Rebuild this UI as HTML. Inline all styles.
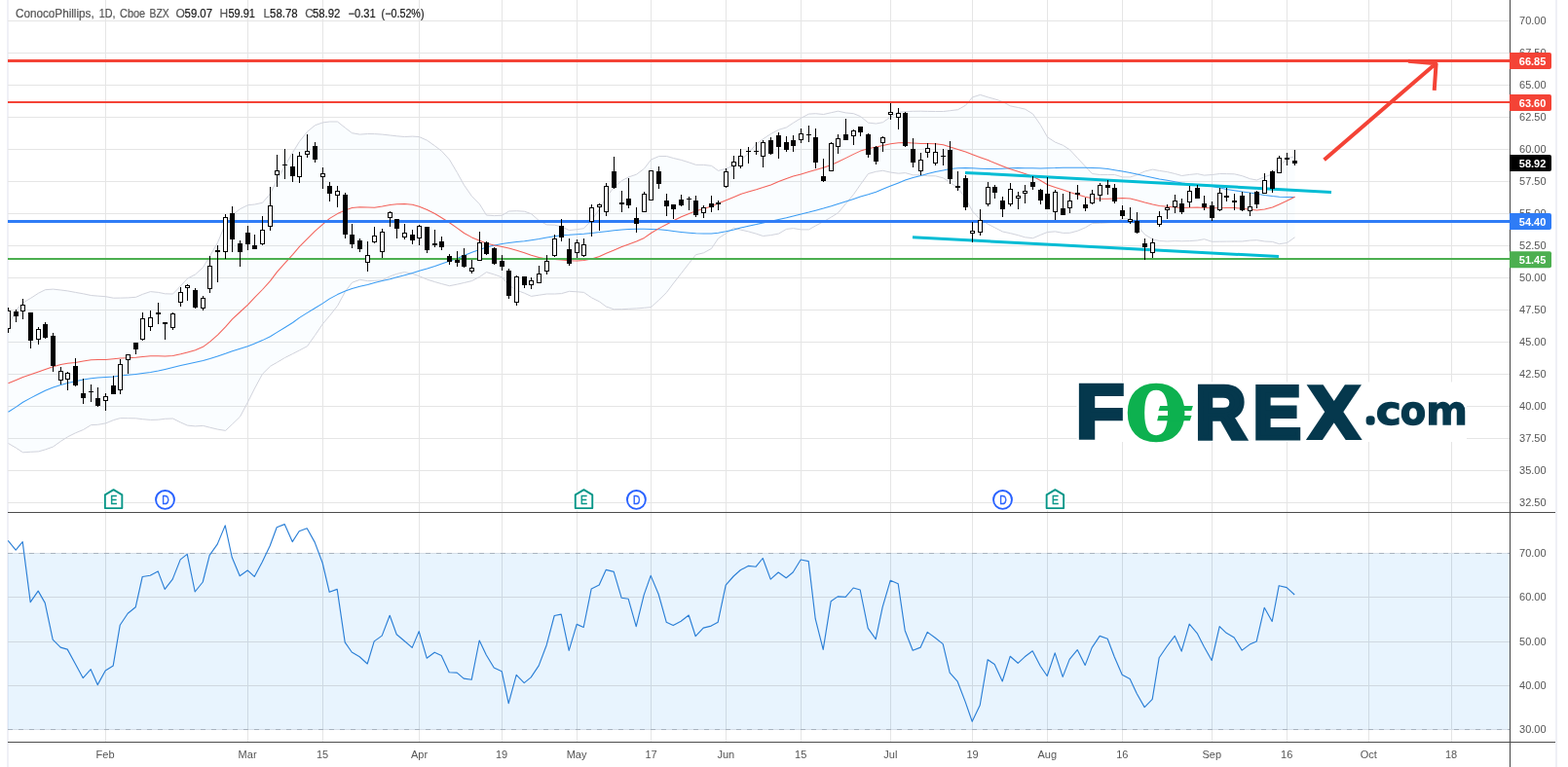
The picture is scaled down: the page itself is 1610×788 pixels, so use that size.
<!DOCTYPE html>
<html lang="en"><head><meta charset="utf-8"><title>ConocoPhillips, 1D, Cboe BZX</title>
<style>html,body{margin:0;padding:0;background:#fff;overflow:hidden}body{width:1610px;height:788px;position:relative;font-family:"Liberation Sans",sans-serif}</style></head>
<body>
<svg width="1610" height="788" viewBox="0 0 1610 788" style="position:absolute;left:0;top:0;display:block" font-family="'Liberation Sans', sans-serif">
<rect width="1610" height="788" fill="#fff"/>
<path d="M7 0h2V788h-2ZM1597 0h2V788h-2Z" fill="#eff0f6"/>
<path d="M8 21.5H1550M8 54.5H1550M8 87.5H1550M8 120.5H1550M8 153.5H1550M8 186.5H1550M8 219.5H1550M8 252.5H1550M8 285.5H1550M8 318.5H1550M8 351.5H1550M8 384.5H1550M8 417.5H1550M8 450.5H1550M8 483.5H1550M8 516.5H1550M108.5 0V526M108.5 527V762M254.5 0V526M254.5 527V762M331.5 0V526M331.5 527V762M430.5 0V526M430.5 527V762M515.5 0V526M515.5 527V762M592.5 0V526M592.5 527V762M668.5 0V526M668.5 527V762M745.5 0V526M745.5 527V762M822.5 0V526M822.5 527V762M914.5 0V526M914.5 527V762M998.5 0V526M998.5 527V762M1075.5 0V526M1075.5 527V762M1152.5 0V526M1152.5 527V762M1244.5 0V526M1244.5 527V762M1321.5 0V526M1321.5 527V762M1405.5 0V526M1405.5 527V762M1490.5 0V526M1490.5 527V762" stroke="#e5e5e5" stroke-width="1" fill="none" shape-rendering="crispEdges"/>
<clipPath id="cpm"><rect x="8" y="0" width="1542" height="526"/></clipPath>
<g clip-path="url(#cpm)" fill="none" stroke-linejoin="round">
<polygon points="8.5,334.9 16.5,318.5 23.5,311.1 31.5,306.4 39.5,301.2 46.5,297.7 54.5,297.1 62.5,298.0 69.5,298.9 77.5,300.4 85.5,301.8 93.5,303.5 100.5,304.1 108.5,304.7 116.5,306.2 123.5,306.1 131.5,305.9 139.5,305.3 146.5,302.3 154.5,299.6 162.5,300.4 169.5,301.8 177.5,302.0 185.5,293.8 192.5,286.1 200.5,282.0 208.5,274.7 215.5,263.0 223.5,249.2 231.5,229.8 238.5,220.9 246.5,214.7 254.5,210.7 261.5,210.0 269.5,208.3 277.5,199.0 284.5,184.9 292.5,170.5 300.5,156.7 307.5,145.4 315.5,135.3 323.5,128.7 331.5,125.9 338.5,125.0 346.5,125.0 354.5,131.4 361.5,136.7 369.5,138.1 377.5,137.5 384.5,137.6 392.5,138.1 400.5,139.0 407.5,139.8 415.5,140.5 423.5,140.1 430.5,140.6 438.5,144.2 446.5,149.9 453.5,155.2 461.5,164.0 469.5,177.5 476.5,190.2 484.5,201.7 492.5,209.8 499.5,221.1 507.5,221.6 515.5,221.3 522.5,217.0 530.5,216.7 538.5,217.2 545.5,219.7 553.5,226.7 561.5,230.9 569.5,231.2 576.5,232.8 584.5,236.6 592.5,235.7 599.5,234.7 607.5,226.0 615.5,215.1 622.5,202.5 630.5,192.3 638.5,185.6 645.5,181.9 653.5,179.2 661.5,173.2 668.5,164.0 676.5,160.6 684.5,160.5 691.5,162.5 699.5,164.4 707.5,166.9 714.5,169.3 722.5,169.4 730.5,170.3 737.5,175.4 745.5,173.3 753.5,170.0 760.5,164.7 768.5,157.2 776.5,148.0 783.5,142.8 791.5,137.5 799.5,133.3 807.5,130.9 814.5,126.3 822.5,121.3 830.5,117.1 837.5,116.7 845.5,117.5 853.5,115.7 860.5,114.2 868.5,115.9 876.5,116.7 883.5,119.6 891.5,126.1 899.5,127.0 906.5,125.7 914.5,120.0 922.5,115.2 929.5,114.6 937.5,114.3 945.5,114.2 952.5,114.4 960.5,114.5 968.5,114.5 975.5,113.7 983.5,112.7 991.5,108.2 998.5,99.9 1006.5,97.4 1014.5,99.9 1021.5,101.8 1029.5,104.5 1037.5,108.9 1045.5,110.5 1052.5,112.1 1060.5,117.0 1068.5,128.5 1075.5,140.9 1083.5,146.1 1091.5,149.3 1098.5,153.9 1106.5,162.5 1114.5,171.1 1121.5,178.5 1129.5,179.5 1137.5,179.5 1144.5,179.5 1152.5,181.9 1160.5,181.9 1167.5,179.6 1175.5,176.0 1183.5,174.1 1190.5,175.4 1198.5,176.6 1206.5,178.5 1213.5,180.5 1221.5,179.4 1229.5,178.6 1236.5,180.1 1244.5,179.5 1252.5,178.5 1259.5,178.6 1267.5,178.8 1275.5,180.7 1283.5,183.7 1290.5,185.0 1298.5,181.7 1306.5,178.9 1313.5,171.7 1321.5,162.7 1329.5,160.9 1329.5,243.8 1321.5,249.5 1313.5,250.7 1306.5,248.4 1298.5,248.0 1290.5,246.7 1283.5,247.0 1275.5,248.0 1267.5,248.0 1259.5,248.1 1252.5,248.2 1244.5,248.3 1236.5,245.7 1229.5,247.0 1221.5,247.6 1213.5,247.8 1206.5,247.6 1198.5,248.0 1190.5,247.5 1183.5,245.8 1175.5,241.0 1167.5,231.5 1160.5,224.9 1152.5,224.7 1144.5,228.4 1137.5,228.9 1129.5,229.3 1121.5,229.5 1114.5,233.8 1106.5,237.2 1098.5,239.3 1091.5,239.4 1083.5,237.9 1075.5,238.5 1068.5,241.3 1060.5,244.7 1052.5,243.8 1045.5,241.7 1037.5,239.7 1029.5,238.0 1021.5,233.9 1014.5,230.3 1006.5,225.4 998.5,217.0 991.5,203.9 983.5,193.0 975.5,187.4 968.5,182.9 960.5,180.8 952.5,180.7 945.5,179.9 937.5,179.8 929.5,177.6 922.5,178.2 914.5,177.1 906.5,175.3 899.5,176.3 891.5,178.5 883.5,189.6 876.5,199.7 868.5,209.2 860.5,218.7 853.5,223.1 845.5,227.7 837.5,231.9 830.5,235.9 822.5,235.9 814.5,234.6 807.5,235.4 799.5,240.1 791.5,241.6 783.5,242.5 776.5,240.2 768.5,237.9 760.5,236.1 753.5,234.2 745.5,239.8 737.5,244.9 730.5,255.4 722.5,259.8 714.5,261.7 707.5,270.5 699.5,280.8 691.5,291.0 684.5,300.4 676.5,308.3 668.5,315.6 661.5,316.3 653.5,316.9 645.5,317.3 638.5,317.7 630.5,317.8 622.5,315.1 615.5,309.9 607.5,305.9 599.5,300.4 592.5,299.8 584.5,299.3 576.5,301.6 569.5,302.0 561.5,302.0 553.5,303.2 545.5,304.4 538.5,301.2 530.5,298.2 522.5,293.1 515.5,284.9 507.5,282.0 499.5,279.6 492.5,284.4 484.5,288.6 476.5,290.5 469.5,292.1 461.5,293.7 453.5,291.6 446.5,289.6 438.5,287.1 430.5,283.7 423.5,281.4 415.5,279.5 407.5,281.4 400.5,283.8 392.5,287.8 384.5,288.3 377.5,288.6 369.5,287.3 361.5,290.3 354.5,299.5 346.5,314.3 338.5,324.4 331.5,332.6 323.5,344.4 315.5,355.7 307.5,359.9 300.5,363.5 292.5,367.5 284.5,372.3 277.5,376.3 269.5,384.2 261.5,399.0 254.5,413.0 246.5,428.1 238.5,435.8 231.5,442.4 223.5,441.1 215.5,439.2 208.5,437.4 200.5,437.9 192.5,437.1 185.5,434.0 177.5,430.0 169.5,430.3 162.5,431.2 154.5,431.4 146.5,430.7 139.5,429.8 131.5,429.7 123.5,429.6 116.5,431.6 108.5,434.9 100.5,436.3 93.5,436.6 85.5,441.5 77.5,444.8 69.5,448.8 62.5,453.3 54.5,459.0 46.5,461.9 39.5,463.9 31.5,464.3 23.5,464.8 16.5,460.2 8.5,455.5" fill="#2196f3" fill-opacity="0.025" stroke="none"/>
<polyline points="8.5,334.9 16.5,318.5 23.5,311.1 31.5,306.4 39.5,301.2 46.5,297.7 54.5,297.1 62.5,298.0 69.5,298.9 77.5,300.4 85.5,301.8 93.5,303.5 100.5,304.1 108.5,304.7 116.5,306.2 123.5,306.1 131.5,305.9 139.5,305.3 146.5,302.3 154.5,299.6 162.5,300.4 169.5,301.8 177.5,302.0 185.5,293.8 192.5,286.1 200.5,282.0 208.5,274.7 215.5,263.0 223.5,249.2 231.5,229.8 238.5,220.9 246.5,214.7 254.5,210.7 261.5,210.0 269.5,208.3 277.5,199.0 284.5,184.9 292.5,170.5 300.5,156.7 307.5,145.4 315.5,135.3 323.5,128.7 331.5,125.9 338.5,125.0 346.5,125.0 354.5,131.4 361.5,136.7 369.5,138.1 377.5,137.5 384.5,137.6 392.5,138.1 400.5,139.0 407.5,139.8 415.5,140.5 423.5,140.1 430.5,140.6 438.5,144.2 446.5,149.9 453.5,155.2 461.5,164.0 469.5,177.5 476.5,190.2 484.5,201.7 492.5,209.8 499.5,221.1 507.5,221.6 515.5,221.3 522.5,217.0 530.5,216.7 538.5,217.2 545.5,219.7 553.5,226.7 561.5,230.9 569.5,231.2 576.5,232.8 584.5,236.6 592.5,235.7 599.5,234.7 607.5,226.0 615.5,215.1 622.5,202.5 630.5,192.3 638.5,185.6 645.5,181.9 653.5,179.2 661.5,173.2 668.5,164.0 676.5,160.6 684.5,160.5 691.5,162.5 699.5,164.4 707.5,166.9 714.5,169.3 722.5,169.4 730.5,170.3 737.5,175.4 745.5,173.3 753.5,170.0 760.5,164.7 768.5,157.2 776.5,148.0 783.5,142.8 791.5,137.5 799.5,133.3 807.5,130.9 814.5,126.3 822.5,121.3 830.5,117.1 837.5,116.7 845.5,117.5 853.5,115.7 860.5,114.2 868.5,115.9 876.5,116.7 883.5,119.6 891.5,126.1 899.5,127.0 906.5,125.7 914.5,120.0 922.5,115.2 929.5,114.6 937.5,114.3 945.5,114.2 952.5,114.4 960.5,114.5 968.5,114.5 975.5,113.7 983.5,112.7 991.5,108.2 998.5,99.9 1006.5,97.4 1014.5,99.9 1021.5,101.8 1029.5,104.5 1037.5,108.9 1045.5,110.5 1052.5,112.1 1060.5,117.0 1068.5,128.5 1075.5,140.9 1083.5,146.1 1091.5,149.3 1098.5,153.9 1106.5,162.5 1114.5,171.1 1121.5,178.5 1129.5,179.5 1137.5,179.5 1144.5,179.5 1152.5,181.9 1160.5,181.9 1167.5,179.6 1175.5,176.0 1183.5,174.1 1190.5,175.4 1198.5,176.6 1206.5,178.5 1213.5,180.5 1221.5,179.4 1229.5,178.6 1236.5,180.1 1244.5,179.5 1252.5,178.5 1259.5,178.6 1267.5,178.8 1275.5,180.7 1283.5,183.7 1290.5,185.0 1298.5,181.7 1306.5,178.9 1313.5,171.7 1321.5,162.7 1329.5,160.9" stroke="#d1d3dc" stroke-width="1"/>
<polyline points="8.5,455.5 16.5,460.2 23.5,464.8 31.5,464.3 39.5,463.9 46.5,461.9 54.5,459.0 62.5,453.3 69.5,448.8 77.5,444.8 85.5,441.5 93.5,436.6 100.5,436.3 108.5,434.9 116.5,431.6 123.5,429.6 131.5,429.7 139.5,429.8 146.5,430.7 154.5,431.4 162.5,431.2 169.5,430.3 177.5,430.0 185.5,434.0 192.5,437.1 200.5,437.9 208.5,437.4 215.5,439.2 223.5,441.1 231.5,442.4 238.5,435.8 246.5,428.1 254.5,413.0 261.5,399.0 269.5,384.2 277.5,376.3 284.5,372.3 292.5,367.5 300.5,363.5 307.5,359.9 315.5,355.7 323.5,344.4 331.5,332.6 338.5,324.4 346.5,314.3 354.5,299.5 361.5,290.3 369.5,287.3 377.5,288.6 384.5,288.3 392.5,287.8 400.5,283.8 407.5,281.4 415.5,279.5 423.5,281.4 430.5,283.7 438.5,287.1 446.5,289.6 453.5,291.6 461.5,293.7 469.5,292.1 476.5,290.5 484.5,288.6 492.5,284.4 499.5,279.6 507.5,282.0 515.5,284.9 522.5,293.1 530.5,298.2 538.5,301.2 545.5,304.4 553.5,303.2 561.5,302.0 569.5,302.0 576.5,301.6 584.5,299.3 592.5,299.8 599.5,300.4 607.5,305.9 615.5,309.9 622.5,315.1 630.5,317.8 638.5,317.7 645.5,317.3 653.5,316.9 661.5,316.3 668.5,315.6 676.5,308.3 684.5,300.4 691.5,291.0 699.5,280.8 707.5,270.5 714.5,261.7 722.5,259.8 730.5,255.4 737.5,244.9 745.5,239.8 753.5,234.2 760.5,236.1 768.5,237.9 776.5,240.2 783.5,242.5 791.5,241.6 799.5,240.1 807.5,235.4 814.5,234.6 822.5,235.9 830.5,235.9 837.5,231.9 845.5,227.7 853.5,223.1 860.5,218.7 868.5,209.2 876.5,199.7 883.5,189.6 891.5,178.5 899.5,176.3 906.5,175.3 914.5,177.1 922.5,178.2 929.5,177.6 937.5,179.8 945.5,179.9 952.5,180.7 960.5,180.8 968.5,182.9 975.5,187.4 983.5,193.0 991.5,203.9 998.5,217.0 1006.5,225.4 1014.5,230.3 1021.5,233.9 1029.5,238.0 1037.5,239.7 1045.5,241.7 1052.5,243.8 1060.5,244.7 1068.5,241.3 1075.5,238.5 1083.5,237.9 1091.5,239.4 1098.5,239.3 1106.5,237.2 1114.5,233.8 1121.5,229.5 1129.5,229.3 1137.5,228.9 1144.5,228.4 1152.5,224.7 1160.5,224.9 1167.5,231.5 1175.5,241.0 1183.5,245.8 1190.5,247.5 1198.5,248.0 1206.5,247.6 1213.5,247.8 1221.5,247.6 1229.5,247.0 1236.5,245.7 1244.5,248.3 1252.5,248.2 1259.5,248.1 1267.5,248.0 1275.5,248.0 1283.5,247.0 1290.5,246.7 1298.5,248.0 1306.5,248.4 1313.5,250.7 1321.5,249.5 1329.5,243.8" stroke="#d1d3dc" stroke-width="1"/>
<polyline points="8.5,423.3 16.5,418.1 23.5,413.2 31.5,408.9 39.5,404.8 46.5,401.2 54.5,398.0 62.5,395.6 69.5,393.5 77.5,391.7 85.5,390.0 93.5,388.7 100.5,388.0 108.5,387.4 116.5,386.9 123.5,386.1 131.5,385.3 139.5,384.4 146.5,383.5 154.5,382.4 162.5,381.1 169.5,379.4 177.5,377.5 185.5,375.6 192.5,373.9 200.5,372.3 208.5,370.6 215.5,368.5 223.5,365.9 231.5,363.3 238.5,360.7 246.5,358.2 254.5,355.7 261.5,352.9 269.5,349.6 277.5,345.8 284.5,341.4 292.5,336.5 300.5,331.5 307.5,326.4 315.5,321.4 323.5,316.5 331.5,311.6 338.5,306.9 346.5,302.6 354.5,299.1 361.5,296.5 369.5,294.3 377.5,292.4 384.5,290.5 392.5,288.6 400.5,286.7 407.5,284.8 415.5,282.7 423.5,280.6 430.5,278.3 438.5,276.0 446.5,273.5 453.5,270.9 461.5,268.2 469.5,265.4 476.5,262.4 484.5,259.3 492.5,256.5 499.5,254.0 507.5,252.1 515.5,250.6 522.5,249.5 530.5,248.6 538.5,247.8 545.5,246.7 553.5,245.6 561.5,244.1 569.5,242.8 576.5,241.7 584.5,241.3 592.5,240.7 599.5,240.2 607.5,239.4 615.5,238.6 622.5,237.7 630.5,236.8 638.5,236.1 645.5,235.5 653.5,235.3 661.5,235.2 668.5,235.4 676.5,235.8 684.5,236.6 691.5,237.5 699.5,238.4 707.5,239.2 714.5,239.8 722.5,240.1 730.5,239.9 737.5,239.2 745.5,237.8 753.5,236.0 760.5,234.1 768.5,232.3 776.5,230.6 783.5,228.9 791.5,227.3 799.5,225.6 807.5,223.8 814.5,221.9 822.5,220.0 830.5,218.1 837.5,216.2 845.5,214.1 853.5,211.8 860.5,209.4 868.5,206.9 876.5,204.4 883.5,202.1 891.5,199.8 899.5,197.3 906.5,194.2 914.5,191.0 922.5,187.9 929.5,185.1 937.5,182.6 945.5,180.4 952.5,178.5 960.5,176.6 968.5,175.0 975.5,173.6 983.5,172.8 991.5,172.6 998.5,172.8 1006.5,173.2 1014.5,173.5 1021.5,173.5 1029.5,173.2 1037.5,172.8 1045.5,172.6 1052.5,172.7 1060.5,172.8 1068.5,173.0 1075.5,172.8 1083.5,172.6 1091.5,172.2 1098.5,172.3 1106.5,172.3 1114.5,172.3 1121.5,172.4 1129.5,172.8 1137.5,173.6 1144.5,174.7 1152.5,175.9 1160.5,177.4 1167.5,179.0 1175.5,180.8 1183.5,182.4 1190.5,183.9 1198.5,185.3 1206.5,186.7 1213.5,187.9 1221.5,189.0 1229.5,189.8 1236.5,190.6 1244.5,191.6 1252.5,192.9 1259.5,194.4 1267.5,195.7 1275.5,196.9 1283.5,198.0 1290.5,199.2 1298.5,200.5 1306.5,201.5 1313.5,202.2 1321.5,202.4 1329.5,202.4" stroke="#3a9cf3" stroke-width="1.05"/>
<polyline points="8.5,393.8 16.5,390.4 23.5,387.5 31.5,384.8 39.5,382.0 46.5,379.4 54.5,376.8 62.5,374.4 69.5,373.3 77.5,372.4 85.5,370.9 93.5,369.7 100.5,369.5 108.5,369.4 116.5,368.7 123.5,368.0 131.5,367.7 139.5,367.3 146.5,366.4 154.5,365.7 162.5,365.7 169.5,365.9 177.5,365.4 185.5,363.8 192.5,361.9 200.5,359.7 208.5,356.3 215.5,351.1 223.5,344.1 231.5,335.9 238.5,327.9 246.5,320.5 254.5,313.1 261.5,305.6 269.5,297.5 277.5,288.6 284.5,279.4 292.5,270.3 300.5,261.6 307.5,253.4 315.5,245.4 323.5,237.4 331.5,230.3 338.5,224.4 346.5,219.6 354.5,216.0 361.5,213.6 369.5,212.7 377.5,213.0 384.5,213.2 392.5,212.0 400.5,210.5 407.5,209.7 415.5,209.4 423.5,210.2 430.5,212.2 438.5,215.5 446.5,219.5 453.5,223.7 461.5,228.8 469.5,234.4 476.5,239.5 484.5,243.9 492.5,247.3 499.5,249.9 507.5,251.9 515.5,253.4 522.5,255.1 530.5,257.2 538.5,259.7 545.5,262.3 553.5,264.6 561.5,266.0 569.5,266.5 576.5,267.0 584.5,267.7 592.5,268.1 599.5,267.6 607.5,266.0 615.5,263.4 622.5,260.3 630.5,256.9 638.5,253.6 645.5,250.9 653.5,248.1 661.5,244.4 668.5,239.5 676.5,234.6 684.5,230.5 691.5,226.7 699.5,222.8 707.5,219.4 714.5,216.7 722.5,214.4 730.5,212.0 737.5,209.1 745.5,205.7 753.5,202.4 760.5,199.4 768.5,196.9 776.5,194.7 783.5,192.6 791.5,189.9 799.5,186.6 807.5,183.5 814.5,181.1 822.5,178.9 830.5,176.6 837.5,174.5 845.5,172.2 853.5,169.5 860.5,166.3 868.5,162.4 876.5,158.4 883.5,155.1 891.5,152.8 899.5,151.1 906.5,149.5 914.5,147.8 922.5,146.7 929.5,146.6 937.5,147.0 945.5,147.4 952.5,147.4 960.5,147.7 968.5,148.7 975.5,150.9 983.5,153.4 991.5,155.9 998.5,158.7 1006.5,161.7 1014.5,164.6 1021.5,167.6 1029.5,170.8 1037.5,173.8 1045.5,176.2 1052.5,178.4 1060.5,181.3 1068.5,185.5 1075.5,189.7 1083.5,192.6 1091.5,195.0 1098.5,197.5 1106.5,200.1 1114.5,202.3 1121.5,203.7 1129.5,204.3 1137.5,204.3 1144.5,203.9 1152.5,203.5 1160.5,203.9 1167.5,205.7 1175.5,208.0 1183.5,210.0 1190.5,211.5 1198.5,212.3 1206.5,213.0 1213.5,213.4 1221.5,213.3 1229.5,213.1 1236.5,213.4 1244.5,213.8 1252.5,213.7 1259.5,213.5 1267.5,213.6 1275.5,214.2 1283.5,215.3 1290.5,215.9 1298.5,215.1 1306.5,213.1 1313.5,209.9 1321.5,206.2 1329.5,202.2" stroke="#f3625a" stroke-width="1.05"/>
</g>
<path d="M8 62.5H1550" stroke="#f44336" stroke-width="3" fill="none"/>
<path d="M8 105H1550" stroke="#f44336" stroke-width="2" fill="none"/>
<path d="M8 227.5H1550" stroke="#2f7cf6" stroke-width="3" fill="none"/>
<path d="M8 266H1550" stroke="#4caf50" stroke-width="2" fill="none"/>
<path d="M991 177.4L1367 197.4M937 243.8L1313 263.6" stroke="#00bcd4" stroke-width="3" fill="none"/>
<path d="M1359.6 164.2L1474 65.6M1446 62.7L1474.6 65.2L1472.7 92.8" stroke="#f44336" stroke-width="4" fill="none" stroke-linejoin="bevel"/>
<g id="candles" shape-rendering="crispEdges" clip-path="url(#cpm)">
<path d="M7 320h3V337h-3ZM22 314h3V319h-3ZM38 339h3V348h-3ZM61 382h3V390h-3ZM68 384h3V389h-3ZM107 408h3V411h-3ZM122 375h3V400h-3ZM130 365h3V369h-3ZM145 328h3V348h-3ZM153 327h3V335h-3ZM176 323h3V336h-3ZM184 301h3V310h-3ZM191 294h3V295h-3ZM207 307h3V316h-3ZM214 274h3V296h-3ZM230 224h3V258h-3ZM268 237h3V250h-3ZM276 212h3V232h-3ZM283 176h3V179h-3ZM306 161h3V181h-3ZM314 156h3V158h-3ZM330 179h3V181h-3ZM345 197h3V200h-3ZM376 263h3V269h-3ZM383 243h3V248h-3ZM391 239h3V258h-3ZM399 219h3V223h-3ZM414 240h3V243h-3ZM429 233h3V244h-3ZM483 276h3V278h-3ZM491 250h3V267h-3ZM529 285h3V310h-3ZM544 289h3V292h-3ZM552 282h3V290h-3ZM560 269h3V278h-3ZM568 246h3V262h-3ZM591 250h3V259h-3ZM598 252h3V262h-3ZM606 214h3V227h-3ZM614 211h3V212h-3ZM621 192h3V217h-3ZM660 200h3V217h-3ZM667 176h3V205h-3ZM721 214h3V218h-3ZM744 177h3V191h-3ZM752 167h3V170h-3ZM759 161h3V170h-3ZM782 147h3V160h-3ZM821 138h3V143h-3ZM852 148h3V175h-3ZM859 143h3V150h-3ZM875 135h3V139h-3ZM905 142h3V146h-3ZM913 116h3V117h-3ZM921 117h3V120h-3ZM944 165h3V175h-3ZM951 153h3V156h-3ZM959 157h3V167h-3ZM997 238h3V239h-3ZM1005 227h3V238h-3ZM1013 193h3V209h-3ZM1036 195h3V209h-3ZM1044 202h3V203h-3ZM1051 197h3V198h-3ZM1082 198h3V217h-3ZM1097 207h3V213h-3ZM1120 200h3V208h-3ZM1128 191h3V200h-3ZM1159 226h3V227h-3ZM1182 250h3V259h-3ZM1189 223h3V230h-3ZM1197 214h3V215h-3ZM1205 207h3V212h-3ZM1220 197h3V207h-3ZM1251 199h3V215h-3ZM1282 213h3V216h-3ZM1297 186h3V198h-3ZM1312 163h3V177h-3Z" fill="#fff"/>
<path d="M8 316h1V319h-1ZM8 338h1V342h-1ZM16 318h1V320h-1ZM16 325h1V331h-1ZM23 307h1V313h-1ZM23 320h1V328h-1ZM31 350h1V358h-1ZM39 336h1V338h-1ZM39 349h1V354h-1ZM46 331h1V333h-1ZM46 347h1V348h-1ZM54 342h1V345h-1ZM54 376h1V382h-1ZM62 377h1V381h-1ZM62 391h1V395h-1ZM69 382h1V383h-1ZM69 390h1V401h-1ZM77 368h1V376h-1ZM77 396h1V397h-1ZM85 389h1V404h-1ZM85 409h1V415h-1ZM93 395h1V402h-1ZM93 403h1V413h-1ZM100 398h1V409h-1ZM100 417h1V418h-1ZM108 404h1V407h-1ZM108 412h1V422h-1ZM116 386h1V396h-1ZM123 369h1V374h-1ZM123 401h1V405h-1ZM131 370h1V384h-1ZM139 359h1V364h-1ZM146 321h1V327h-1ZM146 349h1V350h-1ZM154 319h1V326h-1ZM154 336h1V340h-1ZM162 311h1V321h-1ZM162 323h1V333h-1ZM169 333h1V349h-1ZM177 321h1V322h-1ZM177 337h1V339h-1ZM185 295h1V300h-1ZM185 311h1V315h-1ZM192 292h1V293h-1ZM192 296h1V309h-1ZM200 296h1V298h-1ZM200 316h1V317h-1ZM208 304h1V306h-1ZM208 317h1V319h-1ZM215 263h1V273h-1ZM215 297h1V301h-1ZM223 252h1V257h-1ZM223 259h1V290h-1ZM231 220h1V223h-1ZM231 259h1V266h-1ZM238 212h1V219h-1ZM238 246h1V259h-1ZM246 247h1V250h-1ZM246 259h1V274h-1ZM254 232h1V239h-1ZM254 251h1V257h-1ZM261 241h1V252h-1ZM269 222h1V236h-1ZM269 251h1V252h-1ZM277 192h1V211h-1ZM277 233h1V237h-1ZM284 159h1V175h-1ZM284 180h1V192h-1ZM292 153h1V169h-1ZM292 170h1V184h-1ZM300 158h1V171h-1ZM300 181h1V187h-1ZM307 156h1V160h-1ZM307 182h1V188h-1ZM315 138h1V155h-1ZM315 159h1V162h-1ZM323 146h1V150h-1ZM323 164h1V167h-1ZM331 172h1V178h-1ZM331 182h1V194h-1ZM338 187h1V191h-1ZM338 199h1V207h-1ZM346 191h1V196h-1ZM346 201h1V213h-1ZM354 198h1V200h-1ZM354 241h1V245h-1ZM361 230h1V241h-1ZM361 251h1V255h-1ZM369 245h1V247h-1ZM369 256h1V259h-1ZM377 248h1V262h-1ZM377 270h1V279h-1ZM384 233h1V242h-1ZM384 249h1V250h-1ZM392 235h1V238h-1ZM392 259h1V265h-1ZM400 217h1V218h-1ZM400 224h1V233h-1ZM407 235h1V245h-1ZM415 230h1V239h-1ZM415 244h1V246h-1ZM423 236h1V241h-1ZM423 247h1V251h-1ZM430 231h1V232h-1ZM430 245h1V252h-1ZM438 257h1V260h-1ZM446 236h1V250h-1ZM446 252h1V254h-1ZM453 243h1V248h-1ZM453 254h1V257h-1ZM461 261h1V263h-1ZM461 269h1V272h-1ZM469 258h1V267h-1ZM469 270h1V274h-1ZM476 255h1V262h-1ZM476 274h1V275h-1ZM484 267h1V275h-1ZM484 279h1V281h-1ZM492 238h1V249h-1ZM499 248h1V249h-1ZM499 261h1V262h-1ZM507 254h1V255h-1ZM507 271h1V272h-1ZM515 262h1V268h-1ZM515 274h1V278h-1ZM522 276h1V278h-1ZM522 304h1V307h-1ZM530 283h1V284h-1ZM530 311h1V314h-1ZM538 293h1V296h-1ZM545 285h1V288h-1ZM545 293h1V297h-1ZM553 273h1V281h-1ZM561 262h1V268h-1ZM561 279h1V282h-1ZM569 241h1V245h-1ZM569 263h1V264h-1ZM576 225h1V232h-1ZM576 244h1V248h-1ZM584 245h1V256h-1ZM584 271h1V273h-1ZM592 246h1V249h-1ZM592 260h1V265h-1ZM599 245h1V251h-1ZM599 263h1V264h-1ZM607 210h1V213h-1ZM607 228h1V243h-1ZM615 209h1V210h-1ZM615 213h1V237h-1ZM622 188h1V191h-1ZM622 218h1V222h-1ZM630 161h1V176h-1ZM630 193h1V194h-1ZM638 196h1V208h-1ZM638 210h1V218h-1ZM645 183h1V204h-1ZM645 211h1V214h-1ZM653 213h1V224h-1ZM653 230h1V239h-1ZM661 197h1V199h-1ZM676 171h1V176h-1ZM676 189h1V194h-1ZM684 199h1V206h-1ZM684 212h1V222h-1ZM691 215h1V225h-1ZM699 200h1V205h-1ZM699 211h1V212h-1ZM707 202h1V204h-1ZM707 205h1V216h-1ZM714 201h1V206h-1ZM714 221h1V223h-1ZM722 211h1V213h-1ZM722 219h1V224h-1ZM730 201h1V209h-1ZM730 213h1V218h-1ZM737 206h1V208h-1ZM737 210h1V216h-1ZM745 173h1V176h-1ZM745 192h1V193h-1ZM753 160h1V166h-1ZM753 171h1V184h-1ZM760 153h1V160h-1ZM760 171h1V173h-1ZM768 151h1V155h-1ZM768 156h1V168h-1ZM776 146h1V155h-1ZM776 156h1V159h-1ZM783 144h1V146h-1ZM783 161h1V172h-1ZM791 141h1V144h-1ZM791 158h1V159h-1ZM799 136h1V139h-1ZM799 151h1V163h-1ZM807 140h1V146h-1ZM807 154h1V156h-1ZM814 139h1V144h-1ZM814 150h1V156h-1ZM822 132h1V137h-1ZM822 144h1V147h-1ZM830 129h1V138h-1ZM830 139h1V146h-1ZM837 132h1V141h-1ZM837 167h1V173h-1ZM845 163h1V181h-1ZM845 186h1V187h-1ZM853 146h1V147h-1ZM860 138h1V142h-1ZM860 151h1V158h-1ZM868 122h1V138h-1ZM876 133h1V134h-1ZM876 140h1V149h-1ZM883 136h1V140h-1ZM891 137h1V138h-1ZM891 159h1V162h-1ZM899 150h1V151h-1ZM899 166h1V169h-1ZM906 140h1V141h-1ZM906 147h1V156h-1ZM914 106h1V115h-1ZM914 118h1V123h-1ZM922 111h1V116h-1ZM922 121h1V133h-1ZM929 115h1V116h-1ZM929 150h1V151h-1ZM937 142h1V153h-1ZM937 167h1V172h-1ZM945 157h1V164h-1ZM945 176h1V180h-1ZM952 147h1V152h-1ZM952 157h1V162h-1ZM960 147h1V156h-1ZM960 168h1V170h-1ZM968 153h1V160h-1ZM968 161h1V170h-1ZM975 145h1V154h-1ZM975 184h1V189h-1ZM983 176h1V191h-1ZM983 193h1V196h-1ZM991 180h1V183h-1ZM991 213h1V216h-1ZM998 228h1V237h-1ZM998 240h1V249h-1ZM1006 215h1V226h-1ZM1006 239h1V242h-1ZM1014 187h1V192h-1ZM1014 210h1V212h-1ZM1021 190h1V192h-1ZM1021 198h1V204h-1ZM1029 202h1V206h-1ZM1029 215h1V223h-1ZM1037 188h1V194h-1ZM1037 210h1V212h-1ZM1045 197h1V201h-1ZM1045 204h1V215h-1ZM1052 190h1V196h-1ZM1052 199h1V209h-1ZM1060 181h1V187h-1ZM1060 192h1V195h-1ZM1068 194h1V195h-1ZM1068 206h1V210h-1ZM1075 182h1V199h-1ZM1083 195h1V197h-1ZM1083 218h1V226h-1ZM1091 199h1V214h-1ZM1098 197h1V206h-1ZM1098 214h1V219h-1ZM1106 190h1V198h-1ZM1106 200h1V205h-1ZM1114 203h1V210h-1ZM1114 214h1V217h-1ZM1121 195h1V199h-1ZM1121 209h1V210h-1ZM1129 188h1V190h-1ZM1129 201h1V207h-1ZM1137 185h1V190h-1ZM1137 193h1V200h-1ZM1144 189h1V193h-1ZM1144 207h1V209h-1ZM1152 211h1V216h-1ZM1152 222h1V225h-1ZM1160 213h1V225h-1ZM1160 228h1V230h-1ZM1167 218h1V227h-1ZM1167 239h1V240h-1ZM1175 245h1V250h-1ZM1175 254h1V267h-1ZM1183 245h1V249h-1ZM1183 260h1V265h-1ZM1190 217h1V222h-1ZM1190 231h1V233h-1ZM1198 210h1V213h-1ZM1198 216h1V225h-1ZM1206 200h1V206h-1ZM1206 213h1V219h-1ZM1213 204h1V209h-1ZM1213 218h1V220h-1ZM1221 191h1V196h-1ZM1221 208h1V213h-1ZM1229 190h1V193h-1ZM1236 201h1V209h-1ZM1236 213h1V216h-1ZM1244 207h1V211h-1ZM1244 224h1V227h-1ZM1252 193h1V198h-1ZM1252 216h1V217h-1ZM1259 193h1V201h-1ZM1259 203h1V207h-1ZM1267 199h1V206h-1ZM1267 208h1V216h-1ZM1275 197h1V201h-1ZM1275 216h1V217h-1ZM1283 198h1V212h-1ZM1283 217h1V222h-1ZM1290 196h1V197h-1ZM1290 210h1V214h-1ZM1298 178h1V185h-1ZM1306 175h1V176h-1ZM1306 194h1V198h-1ZM1313 160h1V162h-1ZM1321 157h1V162h-1ZM1321 164h1V170h-1ZM1329 154h1V165h-1ZM1329 168h1V170h-1ZM6 319h5V338h-5ZM7 320V337h3V320ZM14 320h5V325h-5ZM21 313h5V320h-5ZM22 314V319h3V314ZM29 321h5V350h-5ZM37 338h5V349h-5ZM38 339V348h3V339ZM44 333h5V347h-5ZM52 345h5V376h-5ZM60 381h5V391h-5ZM61 382V390h3V382ZM67 383h5V390h-5ZM68 384V389h3V384ZM75 376h5V396h-5ZM83 404h5V409h-5ZM91 402h5V403h-5ZM98 409h5V417h-5ZM106 407h5V412h-5ZM107 408V411h3V408ZM114 396h5V405h-5ZM121 374h5V401h-5ZM122 375V400h3V375ZM129 364h5V370h-5ZM130 365V369h3V365ZM137 352h5V359h-5ZM144 327h5V349h-5ZM145 328V348h3V328ZM152 326h5V336h-5ZM153 327V335h3V327ZM160 321h5V323h-5ZM167 331h5V333h-5ZM175 322h5V337h-5ZM176 323V336h3V323ZM183 300h5V311h-5ZM184 301V310h3V301ZM190 293h5V296h-5ZM191 294V295h3V294ZM198 298h5V316h-5ZM206 306h5V317h-5ZM207 307V316h3V307ZM213 273h5V297h-5ZM214 274V296h3V274ZM221 257h5V259h-5ZM229 223h5V259h-5ZM230 224V258h3V224ZM236 219h5V246h-5ZM244 250h5V259h-5ZM252 239h5V251h-5ZM259 252h5V256h-5ZM267 236h5V251h-5ZM268 237V250h3V237ZM275 211h5V233h-5ZM276 212V232h3V212ZM282 175h5V180h-5ZM283 176V179h3V176ZM290 169h5V170h-5ZM298 171h5V181h-5ZM305 160h5V182h-5ZM306 161V181h3V161ZM313 155h5V159h-5ZM314 156V158h3V156ZM321 150h5V164h-5ZM329 178h5V182h-5ZM330 179V181h3V179ZM336 191h5V199h-5ZM344 196h5V201h-5ZM345 197V200h3V197ZM352 200h5V241h-5ZM359 241h5V251h-5ZM367 247h5V256h-5ZM375 262h5V270h-5ZM376 263V269h3V263ZM382 242h5V249h-5ZM383 243V248h3V243ZM390 238h5V259h-5ZM391 239V258h3V239ZM398 218h5V224h-5ZM399 219V223h3V219ZM405 225h5V235h-5ZM413 239h5V244h-5ZM414 240V243h3V240ZM421 241h5V247h-5ZM428 232h5V245h-5ZM429 233V244h3V233ZM436 233h5V257h-5ZM444 250h5V252h-5ZM451 248h5V254h-5ZM459 263h5V269h-5ZM467 267h5V270h-5ZM474 262h5V274h-5ZM482 275h5V279h-5ZM483 276V278h3V276ZM490 249h5V268h-5ZM491 250V267h3V250ZM497 249h5V261h-5ZM505 255h5V271h-5ZM513 268h5V274h-5ZM520 278h5V304h-5ZM528 284h5V311h-5ZM529 285V310h3V285ZM536 284h5V293h-5ZM543 288h5V293h-5ZM544 289V292h3V289ZM551 281h5V291h-5ZM552 282V290h3V282ZM559 268h5V279h-5ZM560 269V278h3V269ZM567 245h5V263h-5ZM568 246V262h3V246ZM574 232h5V244h-5ZM582 256h5V271h-5ZM590 249h5V260h-5ZM591 250V259h3V250ZM597 251h5V263h-5ZM598 252V262h3V252ZM605 213h5V228h-5ZM606 214V227h3V214ZM613 210h5V213h-5ZM614 211V212h3V211ZM620 191h5V218h-5ZM621 192V217h3V192ZM628 176h5V193h-5ZM636 208h5V210h-5ZM643 204h5V211h-5ZM651 224h5V230h-5ZM659 199h5V218h-5ZM660 200V217h3V200ZM666 175h5V206h-5ZM667 176V205h3V176ZM674 176h5V189h-5ZM682 206h5V212h-5ZM689 210h5V215h-5ZM697 205h5V211h-5ZM705 204h5V205h-5ZM712 206h5V221h-5ZM720 213h5V219h-5ZM721 214V218h3V214ZM728 209h5V213h-5ZM735 208h5V210h-5ZM743 176h5V192h-5ZM744 177V191h3V177ZM751 166h5V171h-5ZM752 167V170h3V167ZM758 160h5V171h-5ZM759 161V170h3V161ZM766 155h5V156h-5ZM774 155h5V156h-5ZM781 146h5V161h-5ZM782 147V160h3V147ZM789 144h5V158h-5ZM797 139h5V151h-5ZM805 146h5V154h-5ZM812 144h5V150h-5ZM820 137h5V144h-5ZM821 138V143h3V138ZM828 138h5V139h-5ZM835 141h5V167h-5ZM843 181h5V186h-5ZM851 147h5V176h-5ZM852 148V175h3V148ZM858 142h5V151h-5ZM859 143V150h3V143ZM866 138h5V144h-5ZM874 134h5V140h-5ZM875 135V139h3V135ZM881 130h5V136h-5ZM889 138h5V159h-5ZM897 151h5V166h-5ZM904 141h5V147h-5ZM905 142V146h3V142ZM912 115h5V118h-5ZM913 116V117h3V116ZM920 116h5V121h-5ZM921 117V120h3V117ZM927 116h5V150h-5ZM935 153h5V167h-5ZM943 164h5V176h-5ZM944 165V175h3V165ZM950 152h5V157h-5ZM951 153V156h3V153ZM958 156h5V168h-5ZM959 157V167h3V157ZM966 160h5V161h-5ZM973 154h5V184h-5ZM981 191h5V193h-5ZM989 183h5V213h-5ZM996 237h5V240h-5ZM997 238V239h3V238ZM1004 226h5V239h-5ZM1005 227V238h3V227ZM1012 192h5V210h-5ZM1013 193V209h3V193ZM1019 192h5V198h-5ZM1027 206h5V215h-5ZM1035 194h5V210h-5ZM1036 195V209h3V195ZM1043 201h5V204h-5ZM1044 202V203h3V202ZM1050 196h5V199h-5ZM1051 197V198h3V197ZM1058 187h5V192h-5ZM1066 195h5V206h-5ZM1073 199h5V215h-5ZM1081 197h5V218h-5ZM1082 198V217h3V198ZM1089 214h5V221h-5ZM1096 206h5V214h-5ZM1097 207V213h3V207ZM1104 198h5V200h-5ZM1112 210h5V214h-5ZM1119 199h5V209h-5ZM1120 200V208h3V200ZM1127 190h5V201h-5ZM1128 191V200h3V191ZM1135 190h5V193h-5ZM1142 193h5V207h-5ZM1150 216h5V222h-5ZM1158 225h5V228h-5ZM1159 226V227h3V226ZM1165 227h5V239h-5ZM1173 250h5V254h-5ZM1181 249h5V260h-5ZM1182 250V259h3V250ZM1188 222h5V231h-5ZM1189 223V230h3V223ZM1196 213h5V216h-5ZM1197 214V215h3V214ZM1204 206h5V213h-5ZM1205 207V212h3V207ZM1211 209h5V218h-5ZM1219 196h5V208h-5ZM1220 197V207h3V197ZM1227 193h5V204h-5ZM1234 209h5V213h-5ZM1242 211h5V224h-5ZM1250 198h5V216h-5ZM1251 199V215h3V199ZM1257 201h5V203h-5ZM1265 206h5V208h-5ZM1273 201h5V216h-5ZM1281 212h5V217h-5ZM1282 213V216h3V213ZM1288 197h5V210h-5ZM1296 185h5V199h-5ZM1297 186V198h3V186ZM1304 176h5V194h-5ZM1311 162h5V178h-5ZM1312 163V177h3V163ZM1319 162h5V164h-5ZM1327 165h5V168h-5Z" fill="#000" fill-rule="evenodd"/>
</g>
<path d="M116.6 503.1L125.35 508.4V522.1H107.85V508.4Z" fill="#fff" stroke="#fff" stroke-width="4.2" stroke-linejoin="round"/>
<path d="M116.6 503.1L125.35 508.4V522.1H107.85V508.4Z" fill="#fff" stroke="#089688" stroke-width="1.9" stroke-linejoin="round"/>
<text transform="translate(116.64999999999999 517.9) scale(0.88 1)" font-size="12" fill="#089688" stroke="#089688" stroke-width="0.45" text-anchor="middle">E</text>
<circle cx="169.5" cy="513.4" r="11.4" fill="#fff"/>
<circle cx="169.5" cy="513.4" r="9.45" fill="#fff" stroke="#2962ff" stroke-width="1.9"/>
<text transform="translate(169.95 517.9) scale(0.86 1)" font-size="12" fill="#2962ff" stroke="#2962ff" stroke-width="0.45" text-anchor="middle">D</text>
<path d="M599.5 503.1L608.25 508.4V522.1H590.75V508.4Z" fill="#fff" stroke="#fff" stroke-width="4.2" stroke-linejoin="round"/>
<path d="M599.5 503.1L608.25 508.4V522.1H590.75V508.4Z" fill="#fff" stroke="#089688" stroke-width="1.9" stroke-linejoin="round"/>
<text transform="translate(599.55 517.9) scale(0.88 1)" font-size="12" fill="#089688" stroke="#089688" stroke-width="0.45" text-anchor="middle">E</text>
<circle cx="653.4" cy="513.4" r="11.4" fill="#fff"/>
<circle cx="653.4" cy="513.4" r="9.45" fill="#fff" stroke="#2962ff" stroke-width="1.9"/>
<text transform="translate(653.85 517.9) scale(0.86 1)" font-size="12" fill="#2962ff" stroke="#2962ff" stroke-width="0.45" text-anchor="middle">D</text>
<circle cx="1029.5" cy="513.4" r="11.4" fill="#fff"/>
<circle cx="1029.5" cy="513.4" r="9.45" fill="#fff" stroke="#2962ff" stroke-width="1.9"/>
<text transform="translate(1029.95 517.9) scale(0.86 1)" font-size="12" fill="#2962ff" stroke="#2962ff" stroke-width="0.45" text-anchor="middle">D</text>
<path d="M1083.4 503.1L1092.15 508.4V522.1H1074.65V508.4Z" fill="#fff" stroke="#fff" stroke-width="4.2" stroke-linejoin="round"/>
<path d="M1083.4 503.1L1092.15 508.4V522.1H1074.65V508.4Z" fill="#fff" stroke="#089688" stroke-width="1.9" stroke-linejoin="round"/>
<text transform="translate(1083.45 517.9) scale(0.88 1)" font-size="12" fill="#089688" stroke="#089688" stroke-width="0.45" text-anchor="middle">E</text>
<rect x="1105.5" y="392.5" width="400.5" height="61.5" fill="#fff"/>
<text id="logo" font-weight="bold" aria-label="FOREX.com"><tspan x="1104.83" y="450.35" font-family="'Liberation Sans', sans-serif" font-size="76.93" textLength="49.73" lengthAdjust="spacingAndGlyphs" fill="#05384d" stroke="#05384d" stroke-width="4.4" stroke-linejoin="miter">F</tspan><tspan x="1156.12" y="452.13" font-family="'DejaVu Serif', serif" font-size="75.82" textLength="62.33" lengthAdjust="spacingAndGlyphs" fill="#0db14f" stroke="#0db14f" stroke-width="2.6" stroke-linejoin="miter">O</tspan><tspan x="1227.82" y="449.85" font-family="'Liberation Sans', sans-serif" font-size="75.47" textLength="51.28" lengthAdjust="spacingAndGlyphs" fill="#05384d" stroke="#05384d" stroke-width="5.4" stroke-linejoin="miter">R</tspan><tspan x="1286.64" y="450.05" font-family="'Liberation Sans', sans-serif" font-size="76.06" textLength="48.95" lengthAdjust="spacingAndGlyphs" fill="#05384d" stroke="#05384d" stroke-width="5.0" stroke-linejoin="miter">E</tspan><tspan x="1341.45" y="451.45" font-family="'DejaVu Sans', sans-serif" font-size="75.62" textLength="56.62" lengthAdjust="spacingAndGlyphs" fill="#05384d" stroke="#05384d" stroke-width="2.2" stroke-linejoin="miter">X</tspan><tspan x="1405.30" y="433.09" font-family="'DejaVu Sans', sans-serif" font-size="10.00" fill="#05384d" stroke="#05384d" stroke-width="7.3" stroke-linejoin="round">.</tspan><tspan x="1412.71" y="436.11" font-family="'DejaVu Sans', sans-serif" font-size="40.23" textLength="26.08" lengthAdjust="spacingAndGlyphs" fill="#05384d" stroke="#05384d" stroke-width="1.3" stroke-linejoin="round">c</tspan><tspan x="1437.77" y="436.11" font-family="'DejaVu Sans', sans-serif" font-size="40.23" textLength="26.40" lengthAdjust="spacingAndGlyphs" fill="#05384d" stroke="#05384d" stroke-width="1.3" stroke-linejoin="round">o</tspan><tspan x="1464.16" y="436.15" font-family="'DejaVu Sans', sans-serif" font-size="40.58" textLength="42.60" lengthAdjust="spacingAndGlyphs" fill="#05384d" stroke="#05384d" stroke-width="1.3" stroke-linejoin="miter">m</tspan></text>
<path d="M1191.1 416.9H1224.9L1223.3 422.1H1189.5ZM1189.5 427.1H1223.5L1221.8 432.3H1188.1Z" fill="#0db14f"/>
<rect x="8" y="568.5" width="1542" height="181" fill="#2196f3" fill-opacity="0.1"/>
<path d="M8 613.5H1550M8 659.5H1550M8 704.5H1550" stroke="#cfd8e0" stroke-width="1" fill="none" shape-rendering="crispEdges"/>
<path d="M108.5 568V750M254.5 568V750M331.5 568V750M430.5 568V750M515.5 568V750M592.5 568V750M668.5 568V750M745.5 568V750M822.5 568V750M914.5 568V750M998.5 568V750M1075.5 568V750M1152.5 568V750M1244.5 568V750M1321.5 568V750M1405.5 568V750M1490.5 568V750" stroke="#cdd9e3" stroke-width="1" fill="none" shape-rendering="crispEdges"/>
<path d="M8 568.5H1550M8 749.5H1550" stroke="#d7dfe8" stroke-width="1" fill="none"/>
<path d="M8 568.5H1550M8 749.5H1550" stroke="#a9b3bf" stroke-width="1" stroke-dasharray="5 6" fill="none"/>
<clipPath id="cpr"><rect x="8" y="527" width="1542" height="235"/></clipPath>
<polyline clip-path="url(#cpr)" points="8.2,555.4 16.2,565.1 23.2,556.6 31.2,618.6 39.2,607.1 46.2,619.4 54.2,657.1 62.2,665.1 69.2,667.1 77.2,681.7 85.2,696.6 93.2,687.7 100.2,703.6 108.2,689.0 116.2,683.9 123.2,642.3 131.2,630.3 139.2,623.8 146.2,592.5 154.2,591.2 162.2,586.9 169.2,605.4 177.2,595.1 185.2,574.9 192.2,569.4 200.2,608.0 208.2,598.0 215.2,570.3 223.2,559.1 231.2,539.9 238.2,572.5 246.2,591.7 254.2,586.0 261.2,592.4 269.2,577.5 277.2,560.8 284.2,541.7 292.2,538.6 300.2,556.6 307.2,545.8 315.2,542.8 323.2,557.1 331.2,578.5 338.2,608.3 346.2,605.4 354.2,659.8 361.2,670.0 369.2,674.8 377.2,682.0 384.2,658.9 392.2,653.1 400.2,632.3 407.2,651.7 415.2,658.5 423.2,665.4 430.2,648.6 438.2,676.2 446.2,670.2 453.2,673.6 461.2,690.8 469.2,691.1 476.2,697.1 484.2,698.3 492.2,658.0 499.2,672.8 507.2,686.0 515.2,689.7 522.2,722.7 530.2,693.4 538.2,701.6 545.2,695.9 553.2,683.9 561.2,662.7 569.2,632.5 576.2,631.1 584.2,668.3 592.2,641.4 599.2,644.5 607.2,604.9 615.2,601.1 622.2,585.4 630.2,587.4 638.2,614.3 645.2,615.3 653.2,643.6 661.2,611.1 668.2,591.4 676.2,610.5 684.2,639.2 691.2,642.6 699.2,638.3 707.2,632.0 714.2,653.7 722.2,645.1 730.2,643.1 737.2,639.2 745.2,601.1 753.2,592.0 760.2,585.8 768.2,581.4 776.2,582.2 783.2,573.5 791.2,595.1 799.2,588.0 807.2,593.7 814.2,588.0 822.2,575.0 830.2,576.6 837.2,635.7 845.2,667.4 853.2,617.7 860.2,612.9 868.2,613.4 876.2,604.0 883.2,606.0 891.2,645.4 899.2,656.6 906.2,623.7 914.2,596.3 922.2,599.7 929.2,647.7 937.2,668.2 945.2,665.1 952.2,649.4 960.2,655.3 968.2,661.6 975.2,691.1 983.2,700.2 991.2,721.1 998.2,741.3 1006.2,724.5 1014.2,677.7 1021.2,682.5 1029.2,700.0 1037.2,674.3 1045.2,681.3 1052.2,674.8 1060.2,668.8 1068.2,684.2 1075.2,694.5 1083.2,670.9 1091.2,695.4 1098.2,677.4 1106.2,667.6 1114.2,683.4 1121.2,665.4 1129.2,653.4 1137.2,656.3 1144.2,674.8 1152.2,693.2 1160.2,697.6 1167.2,712.5 1175.2,726.6 1183.2,718.4 1190.2,675.7 1198.2,664.0 1206.2,653.3 1213.2,669.1 1221.2,641.2 1229.2,650.6 1236.2,664.3 1244.2,678.5 1252.2,643.6 1259.2,650.3 1267.2,655.0 1275.2,668.1 1283.2,662.1 1290.2,658.9 1298.2,624.3 1306.2,638.5 1313.2,601.7 1321.2,603.6 1329.2,611.0" fill="none" stroke="#2b7fd6" stroke-width="1.15" stroke-linejoin="round"/>
<path d="M8 526.5H1597M8 762.5H1597M1550.5 0V788" stroke="#4d4d4d" stroke-width="1.1" fill="none"/>
<text x="1573.8" y="25.0" font-size="11" fill="#555" text-anchor="middle">70.00</text>
<text x="1573.8" y="58.0" font-size="11" fill="#555" text-anchor="middle">67.50</text>
<text x="1573.8" y="91.0" font-size="11" fill="#555" text-anchor="middle">65.00</text>
<text x="1573.8" y="124.0" font-size="11" fill="#555" text-anchor="middle">62.50</text>
<text x="1573.8" y="157.0" font-size="11" fill="#555" text-anchor="middle">60.00</text>
<text x="1573.8" y="190.0" font-size="11" fill="#555" text-anchor="middle">57.50</text>
<text x="1573.8" y="223.0" font-size="11" fill="#555" text-anchor="middle">55.00</text>
<text x="1573.8" y="256.1" font-size="11" fill="#555" text-anchor="middle">52.50</text>
<text x="1573.8" y="289.1" font-size="11" fill="#555" text-anchor="middle">50.00</text>
<text x="1573.8" y="322.1" font-size="11" fill="#555" text-anchor="middle">47.50</text>
<text x="1573.8" y="355.1" font-size="11" fill="#555" text-anchor="middle">45.00</text>
<text x="1573.8" y="388.1" font-size="11" fill="#555" text-anchor="middle">42.50</text>
<text x="1573.8" y="421.1" font-size="11" fill="#555" text-anchor="middle">40.00</text>
<text x="1573.8" y="454.1" font-size="11" fill="#555" text-anchor="middle">37.50</text>
<text x="1573.8" y="487.1" font-size="11" fill="#555" text-anchor="middle">35.00</text>
<text x="1573.8" y="520.1" font-size="11" fill="#555" text-anchor="middle">32.50</text>
<text x="1573.8" y="572.0" font-size="11" fill="#555" text-anchor="middle">70.00</text>
<text x="1573.8" y="617.0" font-size="11" fill="#555" text-anchor="middle">60.00</text>
<text x="1573.8" y="663.0" font-size="11" fill="#555" text-anchor="middle">50.00</text>
<text x="1573.8" y="708.0" font-size="11" fill="#555" text-anchor="middle">40.00</text>
<text x="1573.8" y="753.0" font-size="11" fill="#555" text-anchor="middle">30.00</text>
<path d="M1550 53.9H1591a2 2 0 0 1 2 2V68.9a2 2 0 0 1 -2 2H1550Z" fill="#f44336"/>
<text x="1573.6" y="67.1" font-size="11" font-weight="bold" fill="#fff" text-anchor="middle">66.85</text>
<path d="M1550 97.0H1591a2 2 0 0 1 2 2V112.0a2 2 0 0 1 -2 2H1550Z" fill="#f44336"/>
<text x="1573.6" y="110.2" font-size="11" font-weight="bold" fill="#fff" text-anchor="middle">63.60</text>
<path d="M1550 158.9H1591a2 2 0 0 1 2 2V173.9a2 2 0 0 1 -2 2H1550Z" fill="#000"/>
<text x="1573.6" y="172.1" font-size="11" font-weight="bold" fill="#fff" text-anchor="middle">58.92</text>
<path d="M1550 218.9H1591a2 2 0 0 1 2 2V233.9a2 2 0 0 1 -2 2H1550Z" fill="#2f7cf6"/>
<text x="1573.6" y="232.1" font-size="11" font-weight="bold" fill="#fff" text-anchor="middle">54.40</text>
<path d="M1550 258.2H1591a2 2 0 0 1 2 2V273.2a2 2 0 0 1 -2 2H1550Z" fill="#4caf50"/>
<text x="1573.6" y="271.4" font-size="11" font-weight="bold" fill="#fff" text-anchor="middle">51.45</text>
<text x="108.1" y="778.8" font-size="11" fill="#555" text-anchor="middle">Feb</text>
<text x="254.1" y="778.8" font-size="11" fill="#555" text-anchor="middle">Mar</text>
<text x="331.1" y="778.8" font-size="11" fill="#555" text-anchor="middle">15</text>
<text x="430.5" y="778.8" font-size="11" fill="#555" text-anchor="middle">Apr</text>
<text x="515.1" y="778.8" font-size="11" fill="#555" text-anchor="middle">19</text>
<text x="592.1" y="778.8" font-size="11" fill="#555" text-anchor="middle">May</text>
<text x="668.5" y="778.8" font-size="11" fill="#555" text-anchor="middle">17</text>
<text x="745.3" y="778.8" font-size="11" fill="#555" text-anchor="middle">Jun</text>
<text x="822.2" y="778.8" font-size="11" fill="#555" text-anchor="middle">15</text>
<text x="914.3" y="778.8" font-size="11" fill="#555" text-anchor="middle">Jul</text>
<text x="998.5" y="778.8" font-size="11" fill="#555" text-anchor="middle">19</text>
<text x="1075.3" y="778.8" font-size="11" fill="#555" text-anchor="middle">Aug</text>
<text x="1152.3" y="778.8" font-size="11" fill="#555" text-anchor="middle">16</text>
<text x="1244.3" y="778.8" font-size="11" fill="#555" text-anchor="middle">Sep</text>
<text x="1321.2" y="778.8" font-size="11" fill="#555" text-anchor="middle">16</text>
<text x="1405.2" y="778.8" font-size="11" fill="#555" text-anchor="middle">Oct</text>
<text x="1490.1" y="778.8" font-size="11" fill="#555" text-anchor="middle">18</text>
<text x="16.0" y="18" font-size="12" textLength="80.7" lengthAdjust="spacingAndGlyphs" fill="#555" stroke="#555" stroke-width="0.2">ConocoPhillips,</text>
<text x="101.7" y="18" font-size="12" textLength="16.8" lengthAdjust="spacingAndGlyphs" fill="#555" stroke="#555" stroke-width="0.2">1D,</text>
<text x="123" y="18" font-size="12" textLength="26.2" lengthAdjust="spacingAndGlyphs" fill="#555" stroke="#555" stroke-width="0.2">Cboe</text>
<text x="153.5" y="18" font-size="12" textLength="20.1" lengthAdjust="spacingAndGlyphs" fill="#555" stroke="#555" stroke-width="0.2">BZX</text>
<text x="180.6" y="18" font-size="12" fill="#555" stroke="#555" stroke-width="0.2">O</text>
<text x="189.6" y="18" font-size="12" textLength="28.4" lengthAdjust="spacingAndGlyphs" fill="#1a1a1a" stroke="#1a1a1a" stroke-width="0.2">59.07</text>
<text x="225.6" y="18" font-size="12" fill="#555" stroke="#555" stroke-width="0.2">H</text>
<text x="234.5" y="18" font-size="12" textLength="27.4" lengthAdjust="spacingAndGlyphs" fill="#1a1a1a" stroke="#1a1a1a" stroke-width="0.2">59.91</text>
<text x="270.6" y="18" font-size="12" fill="#555" stroke="#555" stroke-width="0.2">L</text>
<text x="277.1" y="18" font-size="12" textLength="28.5" lengthAdjust="spacingAndGlyphs" fill="#1a1a1a" stroke="#1a1a1a" stroke-width="0.2">58.78</text>
<text x="313.2" y="18" font-size="12" fill="#555" stroke="#555" stroke-width="0.2">C</text>
<text x="321" y="18" font-size="12" textLength="28.4" lengthAdjust="spacingAndGlyphs" fill="#1a1a1a" stroke="#1a1a1a" stroke-width="0.2">58.92</text>
<text x="357.5" y="18" font-size="12" textLength="28.2" lengthAdjust="spacingAndGlyphs" fill="#1a1a1a" stroke="#1a1a1a" stroke-width="0.2">−0.31</text>
<text x="391.6" y="18" font-size="12" textLength="43.9" lengthAdjust="spacingAndGlyphs" fill="#1a1a1a" stroke="#1a1a1a" stroke-width="0.2">(−0.52%)</text>
</svg>
</body></html>
